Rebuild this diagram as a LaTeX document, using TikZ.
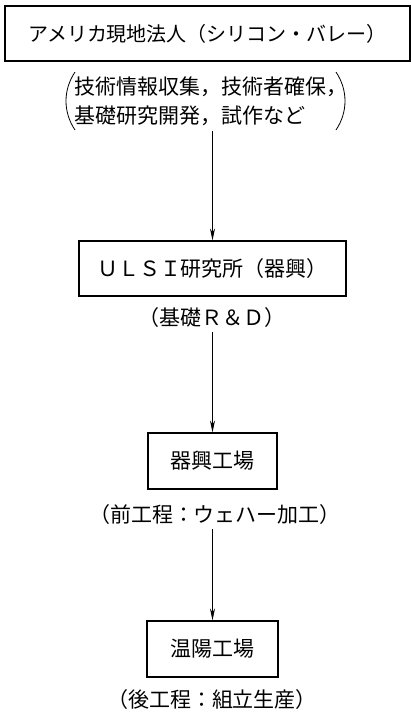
\documentclass[tikz,border=0pt]{standalone}
\usepackage{fontspec}
\setmainfont{Noto Sans CJK JP}
\usetikzlibrary{arrows.meta}
\newcommand\jfs{\fontsize{21pt}{29pt}\selectfont}
\newcommand\jfsa{\fontsize{20pt}{28pt}\selectfont}
\begin{document}
\begin{tikzpicture}[x=1pt,y=-1pt,
  box/.style={draw,line width=1.1pt,inner sep=0pt,font=\jfs},
  lbl/.style={inner sep=0pt,font=\jfs},
  arr/.style={line width=0.9pt,-{Stealth[length=12pt,width=5pt]}},
  paren/.style={line width=0.8pt}]
\useasboundingbox (0,0) rectangle (411,716);
\node[box,font=\jfsa,minimum width=405pt,minimum height=55pt] (b1) at (207.5,33.5) {アメリカ現地法人（シリコン・バレー）};
\node[lbl,align=left] (n1) at (211,101.5) {技術情報収集，技術者確保，\\基礎研究開発，試作など};
\draw[paren] (75,72) .. controls (63,90) and (63,112) .. (75,130);
\draw[paren] (336,72) .. controls (348,90) and (348,112) .. (336,130);
\node[box,minimum width=267pt,minimum height=55pt] (b2) at (212.5,268.5) {ＵＬＳＩ研究所（器興）};
\node[lbl] (n2) at (212,318) {（基礎Ｒ＆Ｄ）};
\node[box,minimum width=129pt,minimum height=56pt] (b3) at (212.5,461) {器興工場};
\node[lbl] (n3) at (215,515) {（前工程：ウェハー加工）};
\node[box,minimum width=131pt,minimum height=56pt] (b4) at (212.5,649) {温陽工場};
\node[lbl] (n4) at (212,700) {（後工程：組立生産）};
\draw[arr,shorten <=5pt] (n1.south -| b2.north) -- (b2.north);
\draw[arr,shorten <=4pt] (n2.south -| b3.north) -- (b3.north);
\draw[arr,shorten <=4pt] (n3.south -| b4.north) -- (b4.north);
\end{tikzpicture}
\end{document}
